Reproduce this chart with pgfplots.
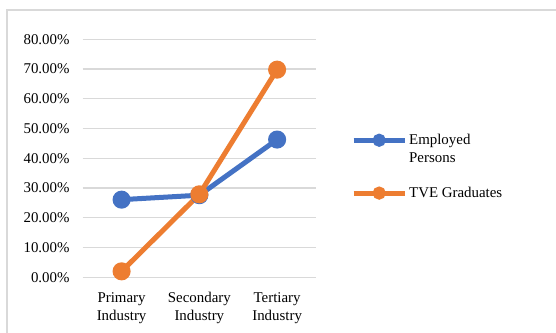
\documentclass[border=0pt]{standalone}
\usepackage{fontspec}
\setmainfont{Liberation Serif}
\usepackage{pgfplots}
\pgfplotsset{compat=1.18}

\definecolor{empblue}{RGB}{68,114,196}
\definecolor{tveorange}{RGB}{237,125,49}
\definecolor{gridgray}{RGB}{217,217,217}

\begin{document}
\begin{tikzpicture}[font=\fontsize{14.9}{18}\selectfont]
\useasboundingbox (0pt,0pt) rectangle (556pt,332pt);
\fill[white] (0pt,0pt) rectangle (556pt,332pt);
% chart frame
\draw[gridgray, line width=1.2pt] (7pt,-20pt) rectangle (580pt,322pt);
\begin{axis}[
  at={(82.7pt,54.7pt)}, anchor=south west,
  scale only axis, width=233.3pt, height=238pt,
  xmin=-0.5, xmax=2.5, ymin=0, ymax=80,
  xtick={0,1,2},
  xticklabels={Primary\\Industry, Secondary\\Industry, Tertiary\\Industry},
  ytick={0,10,...,80},
  yticklabel={\pgfmathprintnumber[fixed,fixed zerofill,precision=2]{\tick}\%},
  /pgf/number format/assume math mode=true,
  axis line style={draw=none},
  major tick length=0pt,
  ymajorgrids,
  grid style={draw=gridgray, line width=1.3pt},
  yticklabel style={inner sep=0pt, xshift=-13pt, font=\fontsize{14.9}{18}\selectfont},
  xticklabel style={align=center, inner sep=0pt, yshift=-15pt, font=\fontsize{14.9}{18}\selectfont},
  legend style={draw=none, fill=none, inner sep=0pt,
    at={(axis description cs:1.150,0.61)}, anchor=north west,
    nodes={align=left, inner sep=2pt}, row sep=19pt,
    font=\fontsize{14.9}{18}\selectfont},
  legend cell align=left,
  legend image code/.code={%
    \draw[#1, mark size=4pt] plot coordinates {(0pt,0pt)(25.5pt,0pt)(51pt,0pt)};
  },
]
\addplot[empblue, line width=5pt, mark=*, mark size=6.5pt, mark repeat=1,
  legend image post style={mark repeat=2, mark phase=2, yshift=9pt}]
  coordinates {(0,26.1) (1,27.6) (2,46.3)};
\addlegendentry{Employed\\Persons}
\addplot[tveorange, line width=5pt, mark=*, mark size=6.5pt,
  legend image post style={mark repeat=2, mark phase=2}]
  coordinates {(0,2.0) (1,27.9) (2,69.8)};
\addlegendentry{TVE Graduates}
\end{axis}
\end{tikzpicture}
\end{document}
